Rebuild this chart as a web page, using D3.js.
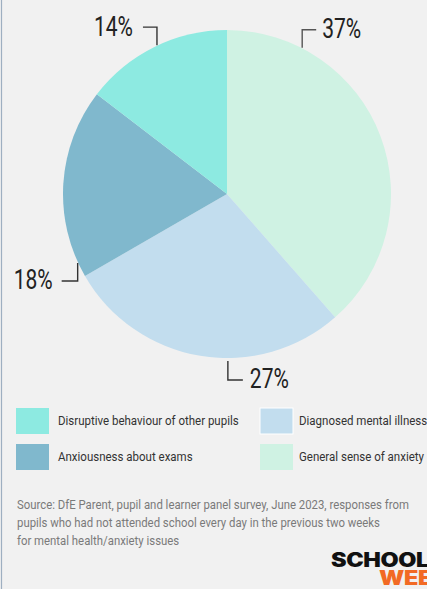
<!DOCTYPE html>
<html>
<head>
<meta charset="utf-8">
<script src="https://cdn.jsdelivr.net/npm/d3@7"></script>
<style>
  html, body { margin: 0; padding: 0; background: #f1f1f1; overflow: hidden; }
  svg { display: block; }
</style>
</head>
<body>
<script>
// Reasons for absence (share of pupils), in clockwise order from 12 o'clock
const categories = [
  "General sense of anxiety",
  "Diagnosed mental illness",
  "Anxiousness about exams",
  "Disruptive behaviour of other pupils"
];
const values = [37, 27, 18, 14];
const colors = ["#cff2e3", "#c2ddee", "#80b8cd", "#8deae1"];

// Legend reading order: two columns
const legendOrder = [
  "Disruptive behaviour of other pupils",
  "Anxiousness about exams",
  "Diagnosed mental illness",
  "General sense of anxiety"
];

const sourceLines = [
  "Source: DfE Parent, pupil and learner panel survey, June 2023, responses from",
  "pupils who had not attended school every day in the previous two weeks",
  "for mental health/anxiety issues"
];

const W = 427, H = 589;
const cx = 227, cy = 194, R = 164;

const svg = d3.select("body").append("svg")
  .attr("width", W).attr("height", H);

svg.append("rect").attr("width", W).attr("height", H).attr("fill", "#f1f1f1");
svg.append("line")
  .attr("x1", 1.5).attr("x2", 1.5).attr("y1", 0).attr("y2", H)
  .attr("stroke", "#9eafc1").attr("stroke-width", 1.2);

const color = d3.scaleOrdinal().domain(categories).range(colors);

const pie = d3.pie().sort(null).value(d => d.value);
const arcs = pie(categories.map((c, i) => ({ cat: c, value: values[i] })));
const arc = d3.arc().innerRadius(0).outerRadius(R);

const g = svg.append("g").attr("transform", `translate(${cx},${cy})`);
g.selectAll("path.slice").data(arcs).join("path")
  .attr("class", "slice")
  .attr("d", arc)
  .attr("fill", d => color(d.data.cat));

// Callouts: anchor angle on the rim, elbow leg directions, label side
const callouts = {
  "General sense of anxiety":            { a: 27.2,  vy: -18, hx: 14,  gap: 6 },
  "Diagnosed mental illness":            { a: 179.7, vy: 19,  hx: 15,  gap: 7, r: 167 },
  "Anxiousness about exams":             { a: 245.2, vy: 18,  hx: -16, gap: 9 },
  "Disruptive behaviour of other pupils":{ a: 334.8, vy: -18, hx: -14, gap: 10 }
};

const condense = 0.75;

arcs.forEach(d => {
  const c = callouts[d.data.cat];
  const [ax, ay] = d3.pointRadial(c.a * Math.PI / 180, c.r || R + 0.5);
  const ex = ax, ey = ay + c.vy;
  const hx = ex + c.hx;
  g.append("path")
    .attr("d", `M${ax},${ay}V${ey}H${hx}`)
    .attr("fill", "none")
    .attr("stroke", d.data.cat === "General sense of anxiety" ? "#555" : "#333")
    .attr("stroke-width", 1.4);
  const right = c.hx > 0;
  const tx = hx + (right ? c.gap : -c.gap);
  g.append("text")
    .attr("transform", `translate(${tx},${ey + 8.5}) scale(${condense},1)`)
    .attr("text-anchor", right ? "start" : "end")
    .attr("font-family", "Roboto")
    .attr("font-weight", 400)
    .attr("font-size", 28)
    .attr("fill", "#222")
    .text(Math.round(d.data.value) + "%");
});

// Legend
const legend = svg.append("g");
const colX = [16, 260], textX = [58, 299], rowY = [408, 444];
legendOrder.forEach((cat, i) => {
  const col = Math.floor(i / 2), row = i % 2;
  const x = colX[col], y = rowY[row];
  legend.append("rect")
    .attr("x", x).attr("y", y).attr("width", 33).attr("height", 26)
    .attr("fill", color(cat))
    .attr("stroke", cat === "Diagnosed mental illness" ? "#ffffff" : "none")
    .attr("stroke-width", 1);
  legend.append("text")
    .attr("transform", `translate(${textX[col]},${y + 17}) scale(0.885,1)`)
    .attr("font-family", "Roboto")
    .attr("font-size", 13)
    .attr("fill", "#333")
    .text(cat);
});

// Source note
svg.append("g").selectAll("text").data(sourceLines).join("text")
  .attr("transform", (d, i) => `translate(17,${509 + i * 18}) scale(0.91,1)`)
  .attr("font-family", "Roboto")
  .attr("font-size", 12.5)
  .attr("fill", "#7a7a7a")
  .text(d => d);

// Masthead
svg.append("text")
  .attr("transform", "translate(331,567) scale(1.2,1)")
  .attr("font-family", "Inter").attr("font-weight", 900)
  .attr("font-size", 19.5).attr("letter-spacing", -0.3)
  .attr("fill", "#111")
  .text("SCHOOLS");
svg.append("text")
  .attr("transform", "translate(379,585) scale(1.2,1)")
  .attr("font-family", "Inter").attr("font-weight", 900)
  .attr("font-size", 19.5).attr("letter-spacing", -0.3)
  .attr("fill", "#f26a24")
  .text("WEEK");
</script>
</body>
</html>
